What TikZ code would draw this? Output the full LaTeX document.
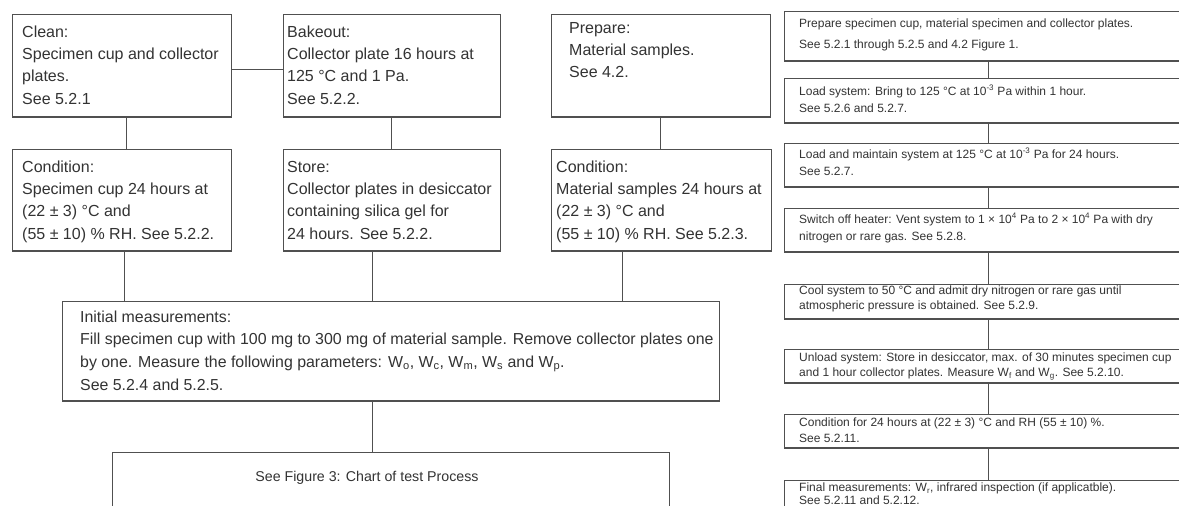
\documentclass[tikz,border=0pt]{standalone}
\usepackage{fontspec}
\setmainfont{Liberation Sans}
\usetikzlibrary{calc}
\definecolor{ln}{HTML}{505050}
\definecolor{tx}{HTML}{333333}
\newcommand\mybx[5]{%
  \node[box, minimum width={(#4-#2)*1pt}, minimum height={(#5-#3)*1pt}] (#1) at (#2,#3) {};
  \draw[bot] (#1.south west) -- (#1.south east);}
\newcommand\lstrut{\rule{0pt}{12pt}}
\newcommand\rstrut{\rule{0pt}{9pt}}
\begin{document}
\begin{tikzpicture}[x=1pt,y=-1pt,
  box/.style={draw=ln, line width=0.9pt, anchor=north west, inner sep=0pt, fill=white},
  bot/.style={draw=ln, line width=1.6pt},
  conn/.style={draw=ln, line width=0.9pt},
  lt/.style={font=\fontsize{16}{22.3}\selectfont, align=left, anchor=north west, inner sep=0pt, text=tx},
  rt/.style={font=\fontsize{12}{#1}\selectfont, align=left, anchor=north west, inner sep=0pt, text=tx},
  ct/.style={font=\fontsize{14.2}{16}\selectfont, text=tx, inner sep=0pt}]
\useasboundingbox (0,0) rectangle (1179,506);
\clip (0,0) rectangle (1179,506);
\fill[white] (0,0) rectangle (1179,506);
% left boxes
\mybx{clean}{12}{14}{231}{116}
\mybx{bake}{283}{14}{500}{116}
\mybx{prep}{551}{14}{770}{116}
\mybx{condA}{12}{149}{231}{250}
\mybx{store}{283}{149}{500}{250}
\mybx{condC}{551}{149}{771}{250}
\mybx{init}{62}{301}{719}{400}
\mybx{fig}{112}{452}{669}{540}
% right boxes
\mybx{ra}{784}{11}{1190}{60}
\mybx{rb}{784}{78}{1190}{122}
\mybx{rc}{784}{143}{1190}{186}
\mybx{rd}{784}{208}{1190}{251}
\mybx{re}{784}{284}{1190}{318}
\mybx{rf}{784}{349}{1190}{382}
\mybx{rg}{784}{414}{1190}{447}
\mybx{rh}{784}{480}{1190}{540}
% texts left
\node[lt] (cleant) at (22,25) {\lstrut Clean:\\Specimen cup and collector\\plates.\\See 5.2.1};
\node[lt] (baket) at (287,25) {\lstrut Bakeout:\\Collector plate 16 hours at\\125 °C and 1 Pa.\\See 5.2.2.};
\node[lt] (prept) at (569,21) {\lstrut Prepare:\\Material samples.\\See 4.2.};
\node[lt] (condAt) at (22,160) {\lstrut Condition:\\Specimen cup 24 hours at\\(22 ± 3) °C and\\(55 ± 10) \% RH. See 5.2.2.};
\node[lt] (storet) at (287,160) {\lstrut Store:\\Collector plates in desiccator\\containing silica gel for\\24 hours. See 5.2.2.};
\node[lt] (condCt) at (556,160) {\lstrut Condition:\\Material samples 24 hours at\\(22 ± 3) °C and\\(55 ± 10) \% RH. See 5.2.3.};
\node[lt, font=\fontsize{15.9}{22.6}\selectfont] (initt) at (80,310) {\lstrut Initial measurements:\\Fill specimen cup with 100 mg to 300 mg of material sample. Remove collector plates one\\by one. Measure the following parameters: W\textsubscript{o}, W\textsubscript{c}, W\textsubscript{m}, W\textsubscript{s} and W\textsubscript{p}.\\See 5.2.4 and 5.2.5.};
\node[ct] (figt) at (367,478) {See Figure 3: Chart of test Process};
% texts right
\node[rt=21] (rat) at (799,18) {\rstrut Prepare specimen cup, material specimen and collector plates.\\See 5.2.1 through 5.2.5 and 4.2 Figure 1.};
\node[rt=17] (rbt) at (799,85) {\rstrut Load system: Bring to 125 °C at 10\textsuperscript{-3} Pa within 1 hour.\\See 5.2.6 and 5.2.7.};
\node[rt=17] (rct) at (799,148) {\rstrut Load and maintain system at 125 °C at 10\textsuperscript{-3} Pa for 24 hours.\\See 5.2.7.};
\node[rt=17] (rdt) at (799,213) {\rstrut Switch off heater: Vent system to 1 × 10\textsuperscript{4} Pa to 2 × 10\textsuperscript{4} Pa with dry\\nitrogen or rare gas. See 5.2.8.};
\node[rt=15] (ret) at (799,285) {\rstrut Cool system to 50 °C and admit dry nitrogen or rare gas until\\atmospheric pressure is obtained. See 5.2.9.};
\node[rt=15] (rft) at (799,352) {\rstrut Unload system: Store in desiccator, max. of 30 minutes specimen cup\\and 1 hour collector plates. Measure W\textsubscript{f} and W\textsubscript{g}. See 5.2.10.};
\node[rt=16] (rgt) at (799,417) {\rstrut Condition for 24 hours at (22 ± 3) °C and RH (55 ± 10) \%.\\See 5.2.11.};
\node[rt=13] (rht) at (799,482) {\rstrut Final measurements: W\textsubscript{r}, infrared inspection (if applicatble).\\See 5.2.11 and 5.2.12.};
% connector columns
\coordinate (xa) at (126,0);
\coordinate (xb) at (391,0);
\coordinate (xc) at (660,0);
\coordinate (xd) at (124,0);
\coordinate (xe) at (372,0);
\coordinate (xf) at (622,0);
\coordinate (xr) at (988,0);
\coordinate (yh) at (0,69);
\draw[conn] (clean.east |- yh) -- (bake.west |- yh);
\draw[conn] (clean.south -| xa) -- (condA.north -| xa);
\draw[conn] (bake.south -| xb) -- (store.north -| xb);
\draw[conn] (prep.south -| xc) -- (condC.north -| xc);
\draw[conn] (condA.south -| xd) -- (init.north -| xd);
\draw[conn] (store.south -| xe) -- (init.north -| xe);
\draw[conn] (condC.south -| xf) -- (init.north -| xf);
\draw[conn] (init.south -| xe) -- (fig.north -| xe);
\draw[conn] (ra.south -| xr) -- (rb.north -| xr);
\draw[conn] (rb.south -| xr) -- (rc.north -| xr);
\draw[conn] (rc.south -| xr) -- (rd.north -| xr);
\draw[conn] (rd.south -| xr) -- (re.north -| xr);
\draw[conn] (re.south -| xr) -- (rf.north -| xr);
\draw[conn] (rf.south -| xr) -- (rg.north -| xr);
\draw[conn] (rg.south -| xr) -- (rh.north -| xr);
\end{tikzpicture}
\end{document}
